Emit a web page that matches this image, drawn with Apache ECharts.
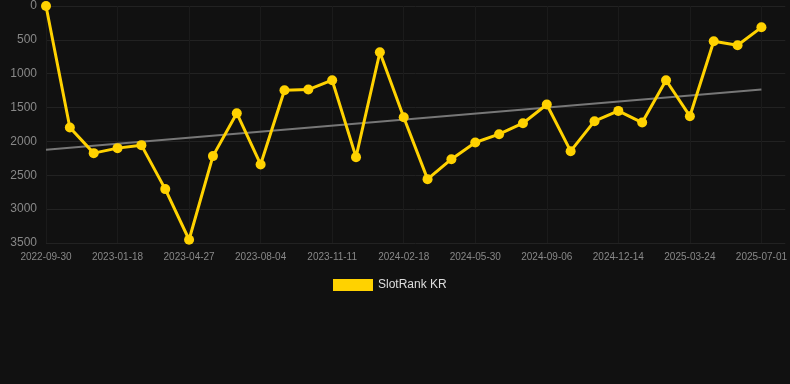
<!DOCTYPE html>
<html>
<head>
<meta charset="utf-8">
<script src="https://cdn.jsdelivr.net/npm/echarts@6/dist/echarts.min.js"></script>
<style>
html,body{margin:0;padding:0;background:#111111;}
#c{width:790px;height:384px;}
</style>
</head>
<body>
<div id="c"></div>
<script>
const categories = [
  '2022-09-30','2022-11-06','2022-12-12','2023-01-18','2023-02-20','2023-03-25',
  '2023-04-27','2023-05-30','2023-07-02','2023-08-04','2023-09-06','2023-10-09',
  '2023-11-11','2023-12-14','2024-01-16','2024-02-18','2024-03-22','2024-04-26',
  '2024-05-30','2024-07-02','2024-08-04','2024-09-06','2024-10-09','2024-11-11',
  '2024-12-14','2025-01-16','2025-02-19','2025-03-24','2025-04-26','2025-05-29',
  '2025-07-01','2025-08-03'
];
const rankValues = [
  0, 1795, 2173, 2099, 2055, 2704, 3452, 2217, 1583, 2340, 1244, 1234, 1096,
  2232, 683, 1642, 2557, 2262, 2016, 1893, 1731, 1455, 2144, 1701, 1549, 1721,
  1096, 1627, 521, 580, 315
];
const trendStart = 2124;
const trendEnd = 1234;
const yTicks = [0, 500, 1000, 1500, 2000, 2500, 3000, 3500];
const seriesName = 'SlotRank KR';

const trendData = rankValues.map((v, i) => i === 0 ? trendStart : (i === rankValues.length - 1 ? trendEnd : null));

const chart = echarts.init(document.getElementById('c'), null, {renderer: 'canvas'});
chart.setOption({
  backgroundColor: '#111111',
  animation: false,
  grid: {left: 46, right: 4, top: 6, bottom: 141},
  legend: {
    data: [seriesName],
    top: 274,
    left: 328,
    itemWidth: 40,
    itemHeight: 12,
    itemGap: 6,
    icon: 'rect',
    textStyle: {color: '#dddddd', fontSize: 12, fontFamily: 'Liberation Sans, Arial, sans-serif'}
  },
  xAxis: {
    type: 'category',
    data: categories,
    boundaryGap: false,
    axisLine: {show: false},
    axisTick: {show: false},
    axisLabel: {interval: 2, color: '#888888', fontSize: 10, margin: 9, fontFamily: 'Liberation Sans, Arial, sans-serif'},
    splitLine: {show: true, interval: 2, lineStyle: {color: '#1b1b1b', width: 1}}
  },
  yAxis: {
    type: 'value',
    inverse: true,
    min: yTicks[0],
    max: yTicks[yTicks.length - 1],
    interval: yTicks[1] - yTicks[0],
    axisLine: {show: false},
    axisTick: {show: false},
    axisLabel: {color: '#888888', fontSize: 12, margin: 9, formatter: (v) => String(v), fontFamily: 'Liberation Sans, Arial, sans-serif'},
    splitLine: {lineStyle: {color: '#222222', width: 1}}
  },
  series: [
    {
      name: seriesName,
      type: 'line',
      data: rankValues,
      symbol: 'circle',
      symbolSize: 10,
      itemStyle: {color: '#FFD200'},
      lineStyle: {color: '#FFD200', width: 3},
      z: 3
    },
    {
      name: 'trend',
      type: 'line',
      data: trendData,
      connectNulls: true,
      symbol: 'none',
      lineStyle: {color: '#777777', width: 2},
      itemStyle: {color: '#777777'},
      silent: true,
      z: 2
    }
  ]
});
</script>
</body>
</html>
